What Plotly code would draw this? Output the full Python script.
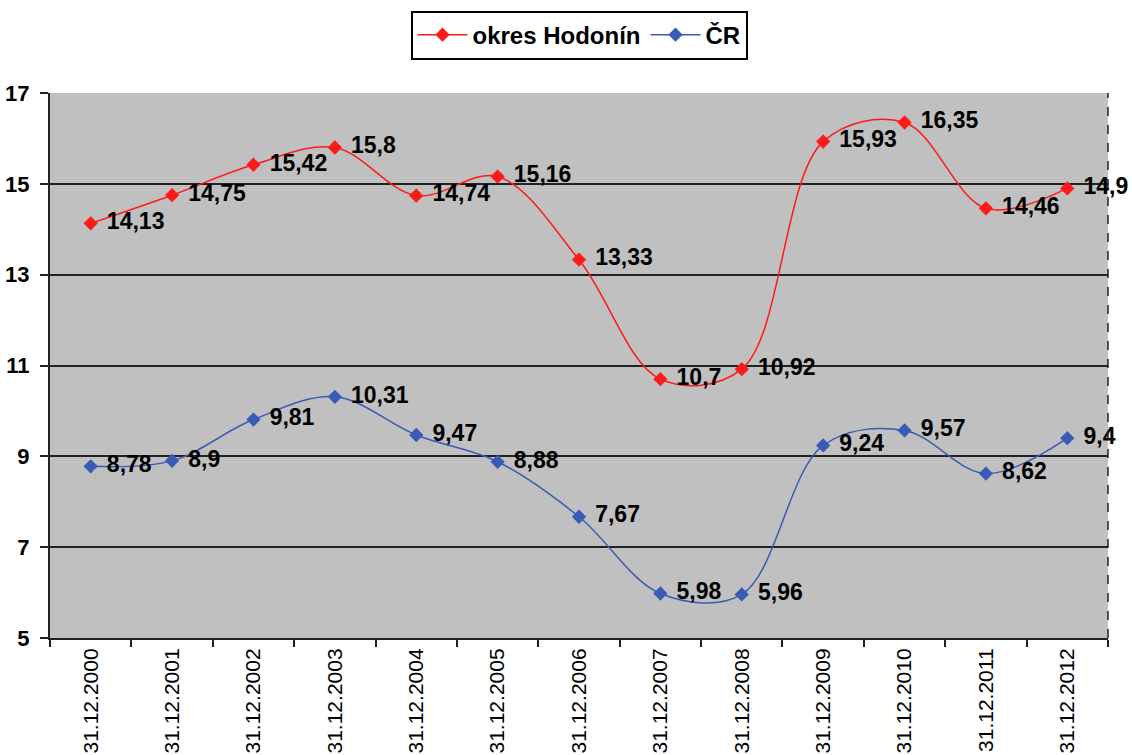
import plotly.graph_objects as go

categories = ["31.12.2000", "31.12.2001", "31.12.2002", "31.12.2003", "31.12.2004",
              "31.12.2005", "31.12.2006", "31.12.2007", "31.12.2008", "31.12.2009",
              "31.12.2010", "31.12.2011", "31.12.2012"]
hodonin = [14.13, 14.75, 15.42, 15.8, 14.74, 15.16, 13.33, 10.7, 10.92, 15.93, 16.35, 14.46, 14.9]
cr = [8.78, 8.9, 9.81, 10.31, 9.47, 8.88, 7.67, 5.98, 5.96, 9.24, 9.57, 8.62, 9.4]

def fmt(v):
    return "\u00a0\u200a" + ("%g" % v).replace(".", ",")

fig = go.Figure()
for name, vals, color in [("okres Hodonín", hodonin, "#FF1A1A"), ("ČR", cr, "#3A5BB5")]:
    fig.add_trace(go.Scatter(
        x=categories, y=vals, name=name,
        mode="lines+markers+text",
        line=dict(color=color, width=1.5, shape="spline", smoothing=1.0),
        marker=dict(symbol="diamond", size=11, color=color),
        text=[fmt(v) for v in vals],
        textposition="middle right",
        textfont=dict(family="Liberation Sans, Arial", size=23, color="black", weight="bold"),
        cliponaxis=False,
    ))

fig.update_layout(
    width=1132, height=755,
    margin=dict(l=50, r=24, t=93, b=117),
    paper_bgcolor="white",
    plot_bgcolor="#C0C0C0",
    font=dict(family="Liberation Sans, Arial", color="black"),
    showlegend=True,
    legend=dict(
        orientation="h", x=0.5, xanchor="center",
        yref="container", y=0.986, yanchor="top",
        bgcolor="white", bordercolor="black", borderwidth=2,
        font=dict(size=24, weight="bold", family="Liberation Sans, Arial"),
        itemwidth=50, tracegroupgap=0,
    ),
)
fig.update_xaxes(
    type="category", tickson="boundaries", ticks="outside", ticklen=7,
    tickwidth=2, tickcolor="#222", showline=True, linecolor="#222", linewidth=2,
    showgrid=False, tickangle=-90, tickfont=dict(size=21), automargin=False,
    range=[-0.5, 12.5],
)
fig.update_yaxes(
    range=[5, 17], dtick=2, tick0=5, ticks="outside", ticklen=8, tickwidth=2,
    tickcolor="#222", showline=True, linecolor="#222", linewidth=2,
    showgrid=True, gridcolor="#222", gridwidth=1.5, zeroline=False,
    tickfont=dict(size=22, weight="bold"), automargin=False, ticklabelstandoff=6,
)
fig.add_shape(type="line", xref="paper", yref="paper", x0=1, x1=1, y0=0, y1=1,
              line=dict(color="#222", width=1.5, dash="dash"))

fig.write_html("out.html", config={"displayModeBar": False},
               post_script="document.body.style.margin='0';")
